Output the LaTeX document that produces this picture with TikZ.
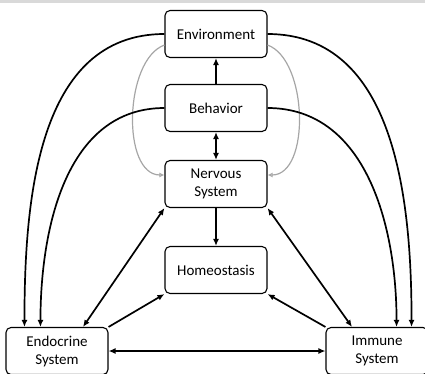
\documentclass[tikz,border=0pt]{standalone}
\usepackage{fontspec}
\setmainfont{Carlito}
\usetikzlibrary{arrows.meta}

\tikzset{
  box/.style={draw, line width=1.1pt, rounded corners=5pt, fill=white,
    minimum width=102pt, minimum height=47pt, align=center,
    font=\fontsize{15}{18}\selectfont},
  link/.style={line width=1.7pt, -{Latex[length=7pt,width=6pt]}},
  both/.style={line width=1.7pt, {Latex[length=7pt,width=6pt]}-{Latex[length=7pt,width=6pt]}},
  feed/.style={gray!70, line width=1.2pt, -{Latex[open,length=5pt,width=5pt]}}
}

\begin{document}
\begin{tikzpicture}[x=1pt,y=-1pt]
\useasboundingbox (0,0) rectangle (425,373);
\fill[gray!30] (0,0) rectangle (425,3);

\node[box] (env) at (216,34) {Environment};
\node[box] (beh) at (216,108) {Behavior};
\node[box] (nerv) at (216,184) {Nervous\\System};
\node[box] (homeo) at (216,270) {Homeostasis};
\node[box] (endo) at (57,351) {Endocrine\\System};
\node[box] (imm) at (377,351) {Immune\\System};

% middle column
\draw[link] (beh) -- (env);
\draw[both] (beh) -- (nerv);
\draw[link] (nerv) -- (homeo);

% feedback loops
\draw[feed] ([yshift=-11pt]env.west) to[out=200,in=180,looseness=0.85] ([yshift=9pt]nerv.west);
\draw[feed] ([yshift=-11pt]env.east) to[out=-20,in=0,looseness=0.85] ([yshift=9pt]nerv.east);

% outer arcs
\draw[link] (env.west) to[out=180,in=90] ([xshift=19pt]endo.north west);
\draw[link] (beh.west) to[out=180,in=90] ([xshift=35pt]endo.north west);
\draw[link] (env.east) to[out=0,in=90] ([xshift=-17pt]imm.north east);
\draw[link] (beh.east) to[out=0,in=90] ([xshift=-32pt]imm.north east);

% lower links
\draw[both] ([xshift=26pt]endo.north) -- (nerv.south west);
\draw[both] ([xshift=-25pt]imm.north) -- (nerv.south east);
\draw[link] (endo.north east) -- (homeo.south west);
\draw[link] (imm.north west) -- (homeo.south east);
\draw[both] (endo) -- (imm);
\end{tikzpicture}
\end{document}
